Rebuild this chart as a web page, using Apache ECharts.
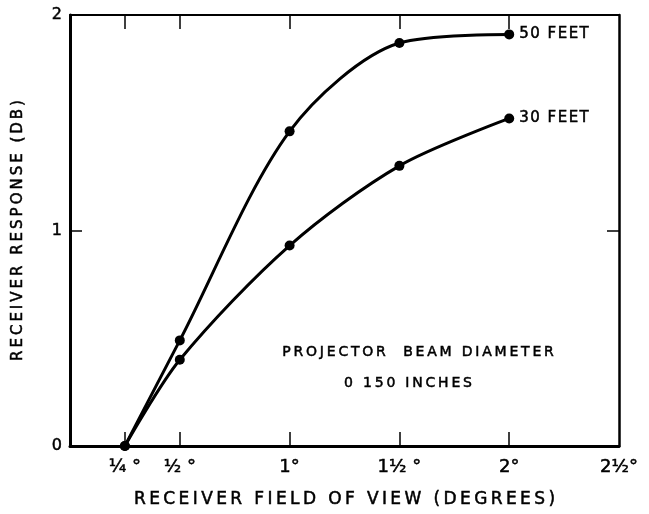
<!DOCTYPE html>
<html>
<head>
<meta charset="utf-8">
<script src="https://cdn.jsdelivr.net/npm/echarts@6/dist/echarts.min.js"></script>
<style>
  html, body { margin: 0; padding: 0; background: #fff; }
  #chart { width: 649px; height: 514px; }
</style>
</head>
<body>
<div id="chart"></div>
<script>
// Field of view (degrees) at which the response was measured
const degrees = [0.25, 0.5, 1, 1.5, 2];
// Receiver response (dB) for each range
const feet50 = [0, 0.49, 1.46, 1.87, 1.91];
const feet30 = [0, 0.40, 0.93, 1.30, 1.52];
const seriesNames = ['50 FEET', '30 FEET'];

// Axis ticks and labels
const xTickValues = [0.25, 0.5, 1, 1.5, 2];
const xLabelValues = [0.25, 0.5, 1, 1.5, 2, 2.5];
const xLabelTexts = ['¼ °', '½ °', '1°', '1½ °', '2°', '2½°'];
const yTickValues = [0, 1, 2];

const xTitle = 'RECEIVER FIELD OF VIEW (DEGREES)';
const yTitle = 'RECEIVER RESPONSE (DB)';
const noteLines = ['PROJECTOR  BEAM DIAMETER', '0 150 INCHES'];

// widen lettering by putting a narrow space between characters
const spaced = (s, gap = '\u2009') => s.split('').join(gap);

const FONT = 'DejaVu Sans';
const INK = '#000';
// a faint outline gives the lettering a slightly heavier stroke
const heavy = { textBorderColor: INK, textBorderWidth: 0.5 };

const toPairs = ys => degrees.map((d, i) => [d, ys[i]]);

const chart = echarts.init(document.getElementById('chart'), null, { renderer: 'canvas' });

const baseX = {
  type: 'value', min: 0, max: 2.5,
  splitLine: { show: false },
  axisLine: { show: true, onZero: false, lineStyle: { color: INK, width: 3 } },
  axisTick: { show: true, inside: true, length: 14, customValues: xTickValues, lineStyle: { color: INK, width: 1.5 } },
};
const baseY = {
  type: 'value', min: 0, max: 2,
  splitLine: { show: false },
  axisLine: { show: true, onZero: false, lineStyle: { color: INK, width: 3 } },
  axisTick: { show: true, inside: true, length: 12, customValues: [1], lineStyle: { color: INK, width: 1.5 } },
};

const lineSeries = (name, ys) => ({
  name,
  type: 'line',
  data: toPairs(ys),
  smooth: 0.3,
  symbol: 'circle',
  symbolSize: 10,
  itemStyle: { color: INK },
  lineStyle: { color: INK, width: 3 },
  endLabel: Object.assign({
    show: true,
    formatter: p => spaced(p.seriesName, '\u200A'),
    distance: 10,
    color: INK,
    fontFamily: FONT,
    fontSize: 15,
  }, heavy),
  animation: false,
});

chart.setOption({
  backgroundColor: '#fff',
  animation: false,
  grid: { left: 70, right: 30, top: 15, bottom: 68, containLabel: false },
  xAxis: [
    Object.assign({}, baseX, {
      position: 'bottom',
      axisLabel: Object.assign({
        show: true,
        customValues: xLabelValues,
        formatter: v => xLabelTexts[xLabelValues.indexOf(v)] || '',
        color: INK, fontFamily: FONT, fontSize: 18, margin: 12,
      }, heavy),
      name: spaced(xTitle),
      nameLocation: 'middle',
      nameGap: 45,
      nameTextStyle: Object.assign({ color: INK, fontFamily: FONT, fontSize: 17 }, heavy),
    }),
    Object.assign({}, baseX, {
      position: 'top',
      axisLine: { show: true, onZero: false, lineStyle: { color: INK, width: 2 } },
      axisLabel: { show: false },
    }),
  ],
  yAxis: [
    Object.assign({}, baseY, {
      position: 'left',
      axisLabel: Object.assign({
        show: true,
        customValues: yTickValues,
        color: INK, fontFamily: FONT, fontSize: 16, margin: 8,
      }, heavy),
      name: spaced(yTitle),
      nameLocation: 'middle',
      nameGap: 44,
      nameRotate: 90,
      nameTextStyle: Object.assign({ color: INK, fontFamily: FONT, fontSize: 15 }, heavy),
    }),
    Object.assign({}, baseY, {
      position: 'right',
      axisLine: { show: true, onZero: false, lineStyle: { color: INK, width: 2.5 } },
      axisLabel: { show: false },
    }),
  ],
  series: [
    lineSeries(seriesNames[0], feet50),
    lineSeries(seriesNames[1], feet30),
  ],
  graphic: [
    {
      type: 'text', x: 418, y: 352,
      style: Object.assign({ text: spaced(noteLines[0]), fill: INK, font: '14px "DejaVu Sans"', textAlign: 'center', textVerticalAlign: 'middle', stroke: INK, lineWidth: 0.5 }),
    },
    {
      type: 'text', x: 408, y: 383,
      style: Object.assign({ text: spaced(noteLines[1]), fill: INK, font: '14px "DejaVu Sans"', textAlign: 'center', textVerticalAlign: 'middle', stroke: INK, lineWidth: 0.5 }),
    },
  ],
});
</script>
</body>
</html>
